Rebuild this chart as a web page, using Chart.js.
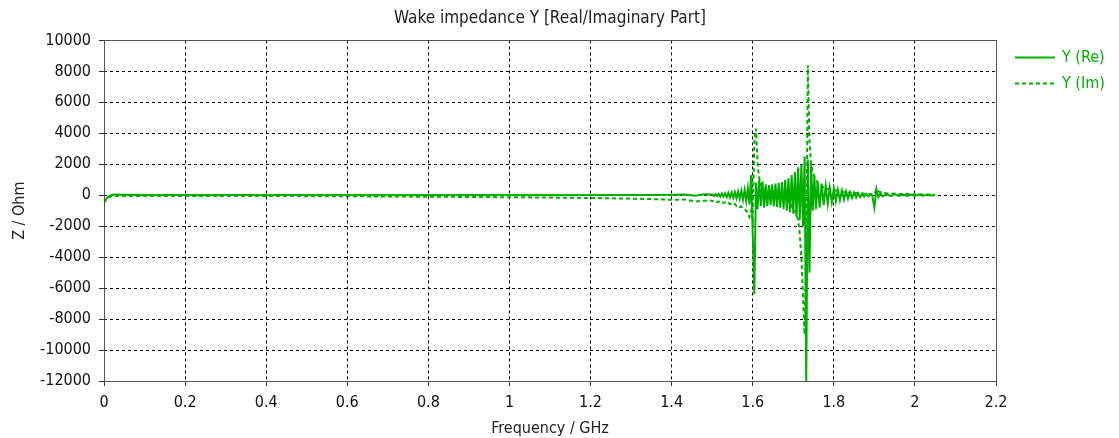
<!DOCTYPE html>
<html>
<head>
<meta charset="utf-8">
<script src="https://cdn.jsdelivr.net/npm/chart.js@4"></script>
<style>
  html, body { margin: 0; padding: 0; background: #fff; }
  #wrap { width: 1119px; height: 438px; }
</style>
</head>
<body>
<div id="wrap"><canvas id="wakeChart" width="1119" height="438"></canvas></div>
<script>
// Frequency samples (GHz)
const freqFlat = [0, 0.005, 0.01, 0.02, 0.03, 0.05, 0.1, 0.15, 0.2, 0.3, 0.4, 0.5, 0.6, 0.7, 0.8, 0.9, 1.0, 1.1, 1.2, 1.25, 1.3, 1.35, 1.4, 1.43, 1.46, 1.48];
const freqPeak = [1.500, 1.504, 1.508, 1.512, 1.516, 1.520, 1.524, 1.528, 1.532, 1.536,
  1.540, 1.544, 1.548, 1.552, 1.556, 1.560, 1.564, 1.568, 1.572, 1.576,
  1.580, 1.584, 1.588, 1.592, 1.596, 1.600, 1.604, 1.608, 1.612, 1.616,
  1.620, 1.624, 1.628, 1.632, 1.636, 1.640, 1.644, 1.648, 1.652, 1.656,
  1.660, 1.664, 1.668, 1.672, 1.676, 1.680, 1.684, 1.688, 1.692, 1.696,
  1.700, 1.704, 1.708, 1.712, 1.716, 1.720, 1.724, 1.728, 1.732, 1.736,
  1.740, 1.744, 1.748, 1.752, 1.756, 1.760];
const freqTail = [1.765, 1.770, 1.775, 1.780, 1.785, 1.790, 1.795, 1.800, 1.805, 1.810,
  1.815, 1.820, 1.825, 1.830, 1.835, 1.840, 1.845, 1.850, 1.855, 1.860,
  1.865, 1.870, 1.875, 1.880, 1.885, 1.890, 1.895, 1.900, 1.905, 1.910,
  1.915, 1.920, 1.93, 1.94, 1.95, 1.96, 1.97, 1.98, 1.99, 2.00, 2.01, 2.02, 2.03, 2.04, 2.05];

// Real part (Ohm)
const reFlat = [-400, -250, -100, 30, 40, 30, 20, 15, 10, 10, 10, 10, 10, 10, 10, 10, 10, 10, 10, 10, 15, 20, 30, 40, -40, 60];
const rePeak = [40, -50, 70, -60, 90, -80, 110, -100, 130, -120,
  150, -140, 180, -170, 200, -200, 240, -230, 280, -300,
  350, -380, 450, -600, 1300, -2500, -6400, 800, -900, 1000,
  -700, 900, -800, 700, -700, 650, -650, 700, -700, 750,
  -750, 800, -800, 850, -900, 1000, -1000, 1100, -1100, 1300,
  -1200, 1500, -1400, 1800, -1600, 2000, -2000, 2500, -12000, 2300,
  -5000, 2000, -1000, 1200, -900, 900];
const reTail = [-800, 750, -650, 600, -550, 500, -450, 420, -380, 350,
  -320, 300, -280, 250, -220, 200, -180, 170, -150, 140,
  -120, 110, -100, 90, -80, 70, -60, -800, 400, -120,
  150, -80, 80, -60, 70, -50, 60, -40, 50, -40, 40, -30, 30, -20, 20];

// Imaginary part (Ohm)
const imFlat = [-500, -300, -150, -60, -50, -50, -50, -50, -50, -50, -50, -60, -70, -80, -100, -110, -130, -150, -180, -200, -220, -250, -300, -280, -400, -360];
const imPeak = [-350, -420, -380, -450, -400, -480, -430, -500, -460, -540,
  -490, -580, -530, -620, -570, -680, -640, -760, -720, -860,
  -900, -1000, -1150, -1400, -1000, -1500, 3500, 4300, 2000, 1100,
  700, 500, 400, 350, 300, 250, 300, 200, 250, 150,
  200, 100, 150, 50, 0, -100, -200, -350, -500, -700,
  -900, -1000, -1200, -1600, -2500, -4000, -6500, -9000, -4000, 8400,
  3500, 2000, 1500, 1200, 1000, 800];
const imTail = [700, 600, 500, 450, 400, 380, 350, 320, 300, 280,
  250, 230, 200, 200, 180, 170, 160, 150, 140, 130,
  120, 110, 100, 90, 80, 70, 60, 50, 400, 250,
  200, 150, 120, 100, 110, 90, 80, 90, 70, 60, 60, 50, 40, 40, 30];

const xTicksMin = 0, xTicksMax = 2.2, xStep = 0.2;
const yTicksMin = -12000, yTicksMax = 10000, yStep = 2000;

const freq = [...freqFlat, ...freqPeak, ...freqTail];
const reY = [...reFlat, ...rePeak, ...reTail];
const imY = [...imFlat, ...imPeak, ...imTail];

const green = '#00b000';
const fontFamily = '"DejaVu Sans Condensed", "DejaVu Sans", sans-serif';

// frame around the plot area (top and right edges too)
const framePlugin = {
  id: 'frame',
  afterDatasetsDraw(chart) {
    const { ctx, chartArea: a } = chart;
    ctx.save();
    ctx.strokeStyle = '#555';
    ctx.lineWidth = 1;
    ctx.setLineDash([]);
    ctx.strokeRect(Math.round(a.left) + 0.5, Math.round(a.top) + 0.5,
      Math.round(a.right - a.left), Math.round(a.bottom - a.top));
    ctx.restore();
  }
};

// legend to the right of the plot, taken from the datasets
const sideLegend = {
  id: 'sideLegend',
  afterDraw(chart) {
    const { ctx, chartArea: a } = chart;
    ctx.save();
    ctx.font = '16px ' + fontFamily;
    ctx.textBaseline = 'middle';
    chart.data.datasets.forEach((ds, i) => {
      const y = a.top + 17 + i * 26;
      const x0 = a.right + 19;
      ctx.strokeStyle = ds.borderColor;
      ctx.lineWidth = 2;
      ctx.setLineDash(ds.borderDash || []);
      ctx.beginPath();
      ctx.moveTo(x0, y);
      ctx.lineTo(x0 + 40, y);
      ctx.stroke();
      ctx.fillStyle = ds.borderColor;
      ctx.fillText(ds.label, x0 + 47, y);
    });
    ctx.restore();
  }
};

const ctx = document.getElementById('wakeChart');
new Chart(ctx, {
  type: 'line',
  data: {
    datasets: [
      {
        label: 'Y (Re)',
        data: freq.map((f, i) => ({ x: f, y: reY[i] })),
        borderColor: green,
        backgroundColor: green,
        borderWidth: 2,
        pointRadius: 0,
        tension: 0
      },
      {
        label: 'Y (Im)',
        data: freq.map((f, i) => ({ x: f, y: imY[i] })),
        borderColor: green,
        backgroundColor: green,
        borderWidth: 2,
        borderDash: [4, 3],
        pointRadius: 0,
        tension: 0
      }
    ]
  },
  options: {
    responsive: false,
    animation: false,
    layout: { padding: { left: 0, right: 123, top: 0, bottom: 0 } },
    plugins: {
      title: {
        display: true,
        fullSize: false,
        text: 'Wake impedance Y [Real/Imaginary Part]',
        color: '#222',
        font: { family: fontFamily, size: 17, weight: 'normal' },
        padding: { top: 8, bottom: 12 }
      },
      legend: { display: false },
      tooltip: { enabled: false }
    },
    scales: {
      x: {
        type: 'linear',
        min: xTicksMin,
        max: xTicksMax,
        ticks: { stepSize: xStep, color: '#111', padding: 7, maxRotation: 0,
          font: { family: fontFamily, size: 16 },
          callback: (v) => String(Math.round(v * 10) / 10) },
        grid: { color: '#000', tickColor: '#333', tickLength: 5 },
        border: { display: false, dash: [3, 3] },
        title: { display: true, text: 'Frequency / GHz', color: '#222',
          font: { family: fontFamily, size: 16 }, padding: { top: 0, bottom: 0 } },
        afterFit: (s) => { s.height = 57; }
      },
      y: {
        min: yTicksMin,
        max: yTicksMax,
        ticks: { stepSize: yStep, color: '#111', padding: 8,
          font: { family: fontFamily, size: 16 },
          callback: (v) => String(v) },
        grid: { color: '#000', tickColor: '#333', tickLength: 5 },
        border: { display: false, dash: [3, 3] },
        title: { display: true, text: 'Z / Ohm', color: '#222',
          font: { family: fontFamily, size: 16 }, padding: { top: 10, bottom: 0 } },
        afterFit: (s) => { s.width = 104; }
      }
    }
  },
  plugins: [framePlugin, sideLegend]
});
</script>
</body>
</html>
